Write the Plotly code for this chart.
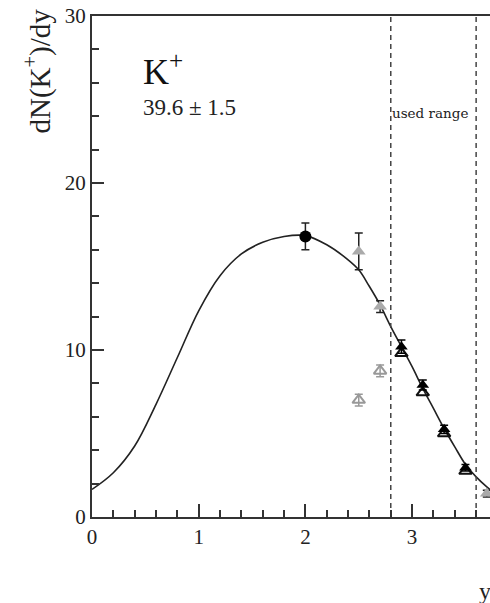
import plotly.graph_objects as go

# ---- data ----
circle_x = [2.0]
circle_y = [16.8]
circle_err = [0.8]

grey_fill_x = [2.5, 2.7, 3.7]
grey_fill_y = [15.9, 12.6, 1.4]
grey_fill_err = [1.1, 0.35, 0.2]

black_fill_x = [2.9, 3.1, 3.3, 3.5]
black_fill_y = [10.2, 7.9, 5.25, 2.95]
black_fill_err = [0.4, 0.3, 0.25, 0.2]

black_open_x = [2.9, 3.1, 3.3, 3.5]
black_open_y = [9.8, 7.45, 5.0, 2.75]

grey_open_x = [2.5, 2.7]
grey_open_y = [7.0, 8.75]
grey_open_err = [0.35, 0.35]

curve_x = [0.0, 0.2, 0.4, 0.6, 0.8, 1.0, 1.2, 1.4, 1.6, 1.8, 2.0, 2.2, 2.4, 2.5,
           2.6, 2.7, 2.8, 2.9, 3.0, 3.1, 3.2, 3.3, 3.4, 3.5, 3.6, 3.7, 3.8]
curve_y = [1.65, 2.65, 4.25, 6.75, 9.55, 12.35, 14.45, 15.75, 16.45, 16.8, 16.85, 16.3, 15.4, 14.8,
           13.8, 12.7, 11.4, 10.2, 9.0, 7.7, 6.5, 5.3, 4.2, 3.15, 2.4, 1.8, 1.3]

used_range = [2.8, 3.6]
x_range = [0, 3.73]
y_range = [0, 30]
x_ticks = [0, 1, 2, 3]
y_ticks = [0, 10, 20, 30]

# ---- geometry ----
W, H = 490, 603
L, R, T, B = 92, 490, 16, 517


def px(xp):
    return (xp - L) / (R - L)


def py(yp):
    return (B - yp) / (B - T)


SERIF = "Liberation Serif"
fig = go.Figure()

fig.add_trace(go.Scatter(x=curve_x, y=curve_y, mode="lines",
                         line=dict(color="#222", width=1.6, shape="spline", smoothing=1.0),
                         hoverinfo="skip"))

for xv in used_range:
    fig.add_trace(go.Scatter(x=[xv, xv], y=y_range, mode="lines",
                             line=dict(color="#444", width=1.5, dash="5px,4px")))

fig.add_trace(go.Scatter(x=grey_open_x, y=grey_open_y, mode="markers",
                         marker=dict(symbol="triangle-up-open", size=11, color="#999", line=dict(width=2)),
                         error_y=dict(type="data", array=grey_open_err, color="#999", width=4, thickness=1.5)))
fig.add_trace(go.Scatter(x=black_open_x, y=black_open_y, mode="markers",
                         marker=dict(symbol="triangle-up-open", size=11, color="#111", line=dict(width=2))))
fig.add_trace(go.Scatter(x=black_fill_x, y=black_fill_y, mode="markers",
                         marker=dict(symbol="triangle-up", size=11, color="#000"),
                         error_y=dict(type="data", array=black_fill_err, color="#000", width=4, thickness=1.5)))
fig.add_trace(go.Scatter(x=grey_fill_x, y=grey_fill_y, mode="markers",
                         marker=dict(symbol="triangle-up", size=12, color="#aaa"),
                         error_y=dict(type="data", array=grey_fill_err, color="#222", width=4, thickness=1.5)))
fig.add_trace(go.Scatter(x=circle_x, y=circle_y, mode="markers",
                         marker=dict(symbol="circle", size=12, color="#000"),
                         error_y=dict(type="data", array=circle_err, color="#222", width=4, thickness=1.5)))

fig.update_layout(
    width=W, height=H, showlegend=False,
    margin=dict(l=L, r=W - R, t=T, b=H - B),
    plot_bgcolor="white", paper_bgcolor="white",
    font=dict(family=SERIF, color="#222"),
)
fig.update_xaxes(range=x_range, tickvals=x_ticks, ticks="inside", ticklen=13, tickwidth=1.5,
                 tickcolor="#333", showline=True, linewidth=2, linecolor="#333", mirror=True,
                 showgrid=False, zeroline=False, tickfont=dict(size=21, family=SERIF),
                 minor=dict(dtick=0.2, ticks="inside", ticklen=7, tickwidth=1.5, tickcolor="#333"))
fig.update_yaxes(range=y_range, tickvals=y_ticks, ticks="inside", ticklen=12, tickwidth=1.5,
                 tickcolor="#333", showline=True, linewidth=2, linecolor="#333", mirror=False,
                 showgrid=False, zeroline=False, tickfont=dict(size=21, family=SERIF),
                 minor=dict(dtick=2, ticks="inside", ticklen=7, tickwidth=1.5, tickcolor="#333"))

fig.add_annotation(text="dN(K<sup>+</sup>)/dy", xref="paper", yref="paper", x=px(38), y=py(7),
                   xanchor="center", yanchor="top", textangle=-90, showarrow=False,
                   font=dict(size=29, family=SERIF, color="#222"))
fig.add_annotation(text="K<sup>+</sup>", xref="paper", yref="paper", x=px(141), y=py(70),
                   xanchor="left", yanchor="middle", showarrow=False,
                   font=dict(size=36, family=SERIF, color="#111"))
fig.add_annotation(text="39.6 ± 1.5", xref="paper", yref="paper", x=px(141), y=py(107),
                   xanchor="left", yanchor="middle", showarrow=False,
                   font=dict(size=23, family=SERIF, color="#222"))
fig.add_annotation(text="used range", xref="paper", yref="paper", x=px(390), y=py(113),
                   xanchor="left", yanchor="middle", showarrow=False,
                   font=dict(size=13.5, family="DejaVu Serif", color="#222"))
fig.add_annotation(text="y", xref="paper", yref="paper", x=px(485), y=py(591),
                   xanchor="center", yanchor="middle", showarrow=False,
                   font=dict(size=24, family=SERIF, color="#222"))

fig.write_html("out.html")
